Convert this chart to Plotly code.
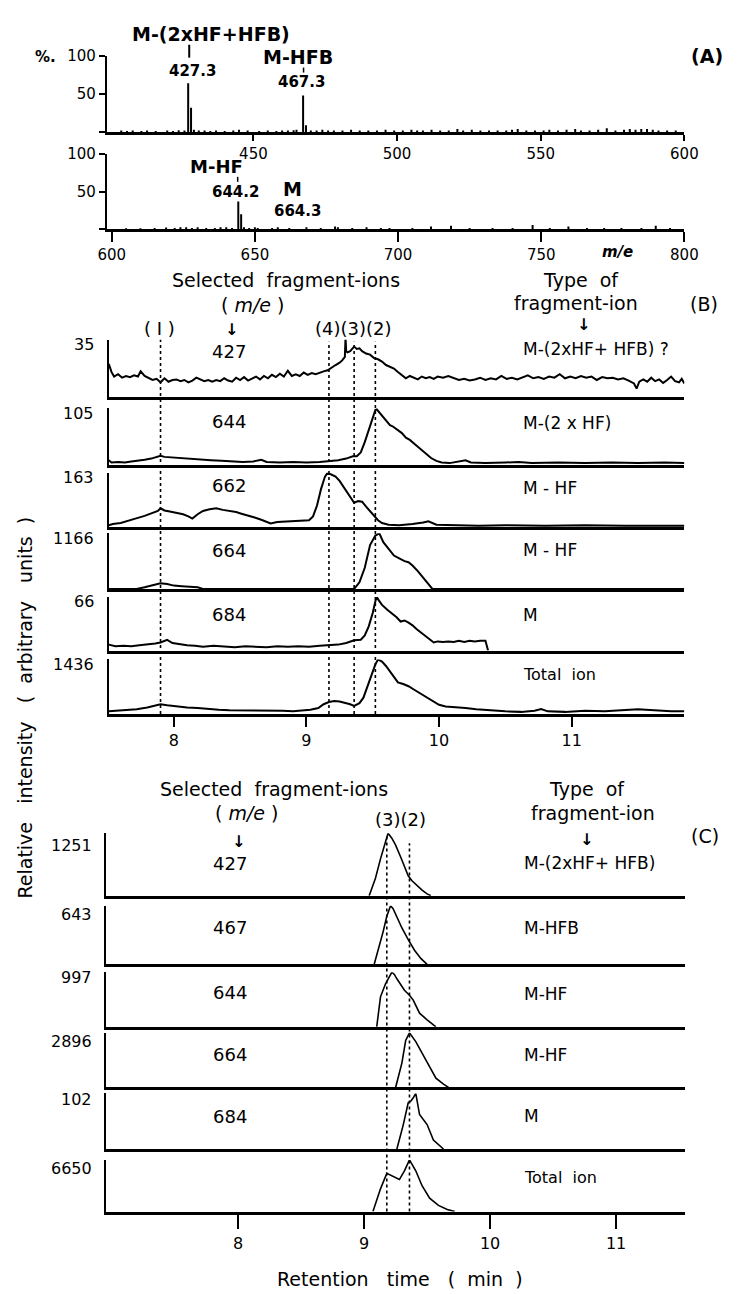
import plotly.graph_objects as go

W, H = 741, 1294
FONT = "DejaVu Sans"

# ---------------- data ----------------
# Panel A: mass spectrum (m/z, relative %)
a1_mz = [404, 406, 408, 411, 413, 416, 420, 422, 424, 426, 427.3, 428.3, 429.3, 431, 433, 435, 437, 440,
         443, 445, 448, 452, 455, 458, 460, 462, 464, 465, 467.3, 468.3, 470, 472, 474, 476, 478, 481, 484,
         487, 490, 493, 496, 499, 502, 505, 507, 509, 512, 515, 518, 521, 523, 526, 529, 532, 535, 538, 540,
         542, 545, 548, 551, 553, 556, 559, 562, 564, 567, 570, 573, 576, 579, 581, 583, 585, 587, 589, 591,
         594, 597]
a1_int = [2, 1.5, 2, 1.5, 2, 1.5, 2, 1.5, 2.5, 2, 64, 32, 3, 2, 2, 1.5, 2, 1.5,
          2, 3, 2, 1.5, 2, 1.5, 2, 2, 2.5, 3, 48, 9, 2, 2, 3, 2, 2, 2, 3,
          2, 2, 2, 3, 2, 2, 3, 2, 2, 3, 2, 2, 4, 2, 3, 2, 2, 2, 2, 3,
          4, 2, 2, 2, 3, 2, 3, 4, 2, 2, 3, 5, 2, 3, 4, 3, 4, 4, 3, 2,
          2, 2]
a2_mz = [605, 610, 615, 619, 622, 624, 626, 628, 630, 633, 636, 638, 640, 642, 644.2, 645.2, 646.2, 648,
         650, 651, 656, 658, 662, 668, 673, 678, 679, 684, 689, 694, 697, 705, 711.5, 718.5, 725, 733, 740,
         747, 753, 759.5, 766, 772, 778, 785, 790, 795]
a2_int = [1.5, 1.5, 2, 2.5, 2, 3, 3, 2, 3, 2, 2, 3, 3, 2, 37, 20, 3, 2,
          3, 2, 2, 3, 2, 3, 2, 4, 3, 2, 3, 2, 2, 2, 4, 5, 2, 2, 2,
          6, 2, 4, 2, 2, 2, 2, 5, 2]
a1_ticks = [450, 500, 550, 600]
a2_ticks = [600, 650, 700, 750, 800]

# Panel B: selected ion chromatograms (retention time min, % of full scale)
b_labels = ["35", "105", "163", "1166", "66", "1436"]
b_ions = ["427", "644", "662", "664", "684", ""]
b_types = ["M-(2xHF+ HFB) ?", "M-(2 x HF)", "M - HF", "M - HF", "M", "Total  ion"]

b427_t = [7.51, 7.53, 7.55, 7.58, 7.61, 7.64, 7.67, 7.70, 7.73, 7.75, 7.78, 7.81, 7.84, 7.87, 7.90, 7.93, 7.96,
          7.99, 8.02, 8.05, 8.08, 8.11, 8.14, 8.17, 8.20, 8.23, 8.26, 8.29, 8.32, 8.35, 8.38, 8.41, 8.44, 8.47,
          8.50, 8.53, 8.56, 8.59, 8.62, 8.65, 8.68, 8.71, 8.74, 8.77, 8.80, 8.83, 8.86, 8.89, 8.92, 8.95, 8.98,
          9.01, 9.04, 9.07, 9.10, 9.13, 9.16, 9.19, 9.22, 9.25, 9.27, 9.29, 9.295, 9.30, 9.31, 9.33, 9.36, 9.38,
          9.40, 9.42, 9.45, 9.48, 9.51, 9.54, 9.57, 9.60, 9.63, 9.66, 9.69, 9.72, 9.75, 9.78, 9.81, 9.84, 9.87,
          9.90, 9.93, 9.96, 9.99, 10.03, 10.07, 10.11, 10.15, 10.19, 10.23, 10.27, 10.31, 10.35, 10.39, 10.43,
          10.47, 10.51, 10.55, 10.59, 10.63, 10.67, 10.71, 10.75, 10.79, 10.83, 10.87, 10.91, 10.95, 10.99,
          11.03, 11.07, 11.11, 11.15, 11.19, 11.23, 11.27, 11.31, 11.35, 11.39, 11.43, 11.47, 11.49, 11.51,
          11.54, 11.57, 11.60, 11.63, 11.66, 11.69, 11.72, 11.75, 11.78, 11.81, 11.83, 11.85]
b427_v = [58, 44, 36, 40, 34, 37, 35, 38, 36, 45, 37, 34, 30, 32, 26, 33, 27,
          30, 31, 28, 30, 26, 29, 34, 31, 28, 30, 27, 30, 28, 33, 29, 27, 34,
          30, 35, 29, 32, 36, 31, 37, 33, 39, 35, 41, 36, 46, 37, 40, 37, 43,
          39, 42, 40, 43, 45, 47, 52, 56, 60, 64, 70, 104, 80, 78, 80, 88, 84,
          85, 80, 76, 74, 68, 66, 62, 56, 53, 50, 44, 38, 33, 37, 34, 31, 36,
          33, 35, 32, 36, 34, 37, 33, 30, 32, 29, 31, 34, 30, 33, 31,
          37, 32, 34, 31, 35, 38, 33, 35, 32, 36, 34, 40, 33, 36,
          33, 37, 34, 36, 30, 35, 33, 34, 31, 33, 29, 24, 15, 27,
          31, 27, 34, 28, 31, 25, 30, 36, 28, 26, 32, 24]

b644_t = [7.51, 7.53, 7.58, 7.63, 7.68, 7.73, 7.78, 7.83, 7.88, 7.90, 7.93, 7.98, 8.05, 8.12, 8.20, 8.28, 8.36,
          8.44, 8.52, 8.60, 8.66, 8.70, 8.80, 8.90, 9.00, 9.10, 9.17, 9.24, 9.30, 9.35, 9.38, 9.41, 9.44, 9.47,
          9.50, 9.52, 9.53, 9.55, 9.57, 9.59, 9.61, 9.63, 9.65, 9.68, 9.70, 9.72, 9.75, 9.78, 9.82, 9.86, 9.90,
          9.94, 9.98, 10.02, 10.08, 10.14, 10.20, 10.24, 10.35, 10.50, 10.60, 10.70, 10.90, 11.10, 11.30, 11.50,
          11.70, 11.85]
b644_v = [8, 4, 5, 4, 6, 7, 9, 11, 14, 16, 14, 13, 12, 10, 9, 8, 7,
          6, 5, 6, 9, 5, 4, 5, 4, 5, 6, 8, 11, 15, 15, 22, 40, 62,
          85, 97, 98, 92, 86, 82, 76, 70, 68, 63, 60, 56, 48, 44, 36, 28, 20,
          12, 7, 4, 3, 5, 8, 4, 3, 4, 5, 3, 4, 3, 4, 3,
          4, 3]

b662_t = [7.51, 7.54, 7.60, 7.65, 7.71, 7.78, 7.85, 7.88, 7.90, 7.93, 7.97, 8.02, 8.07, 8.11, 8.14, 8.18, 8.22,
          8.27, 8.32, 8.37, 8.42, 8.47, 8.51, 8.56, 8.61, 8.66, 8.71, 8.73, 8.78, 8.84, 8.90, 8.96, 9.02, 9.05,
          9.08, 9.11, 9.14, 9.16, 9.19, 9.22, 9.25, 9.28, 9.31, 9.34, 9.36, 9.39, 9.42, 9.45, 9.48, 9.51, 9.54,
          9.57, 9.62, 9.70, 9.80, 9.88, 9.92, 9.98, 10.10, 10.30, 10.50, 10.80, 11.10, 11.40, 11.85]
b662_v = [4, 6, 8, 11, 16, 21, 27, 30, 35, 31, 29, 27, 24, 20, 16, 24, 30,
          33, 35, 32, 30, 28, 25, 22, 18, 14, 9, 7, 10, 11, 12, 12, 13, 20,
          40, 70, 93, 100, 97, 93, 85, 74, 64, 52, 45, 48, 47, 38, 30, 21, 13,
          8, 5, 4, 6, 9, 11, 5, 4, 3, 4, 3, 4, 3, 3]

b664_t = [7.51, 7.72, 7.78, 7.84, 7.90, 7.95, 8.00, 8.06, 8.12, 8.18, 8.22, 9.36, 9.40, 9.44, 9.48, 9.52, 9.55,
          9.58, 9.62, 9.66, 9.70, 9.74, 9.77, 9.80, 9.84, 9.88, 9.92, 9.95, 11.85]
b664_v = [0, 0, 3, 6, 10, 9, 6, 5, 4, 3, 0, 0, 12, 38, 79, 96, 100,
          84, 72, 60, 55, 50, 48, 42, 32, 20, 8, 0, 0]

b684_t = [7.51, 7.56, 7.62, 7.68, 7.74, 7.80, 7.86, 7.90, 7.95, 7.99, 8.04, 8.10, 8.16, 8.22, 8.30, 8.38, 8.46,
          8.54, 8.62, 8.70, 8.78, 8.86, 8.94, 9.02, 9.10, 9.17, 9.24, 9.30, 9.36, 9.41, 9.44, 9.47, 9.50, 9.52,
          9.53, 9.55, 9.57, 9.61, 9.64, 9.68, 9.71, 9.74, 9.77, 9.80, 9.83, 9.87, 9.90, 9.93, 9.96, 9.99, 10.03,
          10.07, 10.11, 10.15, 10.19, 10.23, 10.27, 10.31, 10.35, 10.37]
b684_v = [11, 8, 9, 8, 10, 11, 13, 15, 20, 14, 12, 10, 9, 7, 9, 8, 6,
          8, 7, 6, 8, 7, 8, 7, 9, 10, 11, 14, 19, 20, 28, 45, 70, 92,
          100, 92, 85, 76, 70, 62, 54, 56, 52, 47, 40, 32, 26, 20, 15, 17, 16,
          17, 16, 18, 16, 18, 17, 18, 18, 0]

btot_t = [7.51, 7.58, 7.65, 7.72, 7.80, 7.86, 7.90, 7.95, 8.02, 8.10, 8.18, 8.26, 8.34, 8.42, 8.50, 8.58, 8.66,
          8.74, 8.82, 8.90, 8.97, 9.03, 9.09, 9.13, 9.17, 9.21, 9.25, 9.29, 9.33, 9.36, 9.40, 9.43, 9.46, 9.49,
          9.52, 9.54, 9.57, 9.60, 9.63, 9.66, 9.69, 9.73, 9.77, 9.81, 9.86, 9.90, 9.95, 10.00, 10.05, 10.12,
          10.20, 10.28, 10.38, 10.50, 10.62, 10.72, 10.77, 10.82, 10.95, 11.10, 11.25, 11.40, 11.50, 11.56,
          11.65, 11.75, 11.85]
btot_v = [5, 6, 7, 9, 12, 15, 18, 16, 14, 12, 11, 9, 8, 7, 7, 6, 6,
          7, 6, 5, 6, 8, 11, 18, 22, 24, 23, 21, 18, 15, 20, 30, 50, 72,
          91, 100, 96, 88, 78, 68, 58, 55, 51, 45, 38, 31, 24, 17, 14, 13,
          11, 9, 7, 5, 4, 6, 9, 5, 4, 6, 5, 7, 9, 8,
          6, 5, 5]

b_peaks = [(1, 7.90), (4, 9.17), (3, 9.36), (2, 9.52)]   # labelled retention times
b_ticks = [8, 9, 10, 11]

# Panel C
c_labels = ["1251", "643", "997", "2896", "102", "6650"]
c_ions = ["427", "467", "644", "664", "684", ""]
c_types = ["M-(2xHF+ HFB)", "M-HFB", "M-HF", "M-HF", "M", "Total  ion"]

c427_t = [9.04, 9.09, 9.13, 9.16, 9.18, 9.19, 9.22, 9.25, 9.29, 9.32, 9.35, 9.38, 9.42, 9.46, 9.50, 9.53]
c427_v = [0, 28, 59, 80, 95, 100, 92, 81, 62, 48, 32, 24, 16, 9, 3, 0]
c467_t = [9.08, 9.12, 9.15, 9.18, 9.21, 9.23, 9.26, 9.30, 9.35, 9.40, 9.45, 9.50]
c467_v = [0, 30, 55, 82, 100, 95, 80, 62, 42, 24, 10, 0]
c644_t = [9.10, 9.13, 9.17, 9.22, 9.24, 9.26, 9.32, 9.36, 9.39, 9.44, 9.50, 9.57]
c644_v = [0, 55, 79, 100, 96, 88, 67, 58, 49, 25, 13, 0]
c664_t = [9.25, 9.30, 9.33, 9.36, 9.41, 9.46, 9.52, 9.57, 9.63, 9.67]
c664_v = [0, 45, 86, 100, 84, 63, 40, 17, 6, 0]
c684_t = [9.26, 9.31, 9.35, 9.37, 9.39, 9.41, 9.44, 9.50, 9.55, 9.61, 9.63]
c684_v = [0, 43, 83, 86, 92, 100, 62, 44, 16, 4, 0]
ctot_t = [9.07, 9.13, 9.18, 9.23, 9.28, 9.32, 9.36, 9.41, 9.46, 9.52, 9.59, 9.66, 9.72]
ctot_v = [0, 44, 74, 68, 62, 79, 100, 79, 50, 26, 12, 4, 0]

c_peaks = [(3, 9.18), (2, 9.36)]
c_ticks = [8, 9, 10, 11]

# ---------------- layout helpers ----------------
def px(x):
    return x / W


def py(y):
    return 1 - y / H


fig = go.Figure()
layout = dict(width=W, height=H, margin=dict(l=0, r=0, t=0, b=0), paper_bgcolor="white",
              plot_bgcolor="rgba(0,0,0,0)", showlegend=False, font=dict(family=FONT, color="black"))
ann = []
shapes = []


def txt(x, y, s, size=17, xanchor="center", angle=0):
    ann.append(dict(x=px(x), y=py(y), xref="paper", yref="paper", text=s, showarrow=False,
                    font=dict(family=FONT, size=size, color="black"), xanchor=xanchor, yanchor="middle",
                    textangle=angle))


def tick_mark(x, y0, y1, w=2):
    shapes.append(dict(type="line", xref="paper", yref="paper", x0=px(x), x1=px(x), y0=py(y0), y1=py(y1),
                       line=dict(color="black", width=w)))


def axes(n, x0, x1, ytop, ybot, xr, yr, xtick=None, xticklen=8, ylinew=2.0, ytick=None, xlinew=2.5,
         tickfs=16, standoff=None):
    sx = "" if n == 1 else str(n)
    xa = dict(domain=[px(x0), px(x1)], range=xr, anchor="y" + sx, showline=True, linecolor="black",
              linewidth=xlinew, showgrid=False, zeroline=False, fixedrange=True)
    if xtick:
        xa.update(tickmode="array", tickvals=xtick, ticks="outside", ticklen=xticklen, tickwidth=2,
                  tickcolor="black", showticklabels=True, tickfont=dict(size=tickfs, family=FONT))
        if standoff is not None:
            xa["ticklabelstandoff"] = standoff
    else:
        xa.update(ticks="", showticklabels=False)
    ya = dict(domain=[py(ybot), py(ytop)], range=yr, anchor="x" + sx, showline=True, linecolor="black",
              linewidth=ylinew, showgrid=False, zeroline=False, fixedrange=True)
    if ytick:
        ya.update(tickmode="array", tickvals=ytick[0], ticktext=ytick[1], ticks="outside", ticklen=6,
                  tickwidth=2, tickcolor="black", tickfont=dict(size=15, family=FONT))
    else:
        ya.update(ticks="", showticklabels=False)
    layout["xaxis" + sx] = xa
    layout["yaxis" + sx] = ya
    return "x" + sx, "y" + sx


def sticks(mz, inten):
    xs, ys = [], []
    for m, v in zip(mz, inten):
        xs += [m, m, None]
        ys += [0, v, None]
    return xs, ys


# ---------------- Panel A ----------------
xa, ya = axes(1, 101, 697, 47, 124, [399, 600], [0, 100], xtick=a1_ticks, xticklen=6,
              ytick=([0, 50, 100], ["", "50", "100"]), tickfs=15, standoff=0)
sx, sy = sticks(a1_mz, a1_int)
fig.add_trace(go.Scatter(x=sx, y=sy, xaxis=xa, yaxis=ya, mode="lines", line=dict(color="black", width=2)))
xa, ya = axes(2, 101, 697, 146, 222, [598.3, 800], [0, 100], xtick=a2_ticks, xticklen=10,
              ytick=([0, 50, 100], ["", "50", "100"]), tickfs=15)
sx, sy = sticks(a2_mz, a2_int)
fig.add_trace(go.Scatter(x=sx, y=sy, xaxis=xa, yaxis=ya, mode="lines", line=dict(color="black", width=2)))

txt(208, 25, "<b>M-(2xHF+HFB)</b>", 19)
tick_mark(186, 36, 49)
txt(189, 62, "<b>427.3</b>", 15)
txt(298, 48, "<b>M-HFB</b>", 19)
tick_mark(304, 59, 64, 1.5)
txt(302, 74, "<b>467.3</b>", 15)
txt(38, 48, "<b>%.</b>", 15)
txt(720, 47, "<b>(A)</b>", 19)
txt(214, 159, "<b>M-HF</b>", 18)
tick_mark(236, 169, 174, 1.5)
txt(234, 184, "<b>644.2</b>", 15)
txt(293, 181, "<b>M</b>", 19)
txt(298, 203, "<b>664.3</b>", 15)
txt(628, 245, "<b><i>m/e</i></b>", 15)

# ---------------- Panel B ----------------
b_rows = [(333, 391), (402, 459), (467, 522), (528, 584), (592, 646), (655, 710)]
b_series = [(b427_t, b427_v), (b644_t, b644_v), (b662_t, b662_v), (b664_t, b664_v), (b684_t, b684_v),
            (btot_t, btot_v)]
b_type_y = [342, 417, 482, 545, 610, 670]
b_ion_y = [345, 415, 480, 545, 610, 0]
first_bx = None
for i, ((top, bot), (t, v)) in enumerate(zip(b_rows, b_series)):
    n = 3 + i
    last = i == len(b_rows) - 1
    xa, ya = axes(n, 103, 697, top, bot, [7.51, 11.85], [0, 100], xtick=b_ticks if last else None,
                  xticklen=10)
    if first_bx is None:
        first_bx = xa
    fig.add_trace(go.Scatter(x=t, y=v, xaxis=xa, yaxis=ya, mode="lines",
                             line=dict(color="black", width=2)))
    txt(90, top + 5, b_labels[i], 16, xanchor="right")
    if b_ions[i]:
        txt(227, b_ion_y[i], b_ions[i], 18)
    txt(528, b_type_y[i], b_types[i], 17 if i < 5 else 16, xanchor="left")

for lab, tt in b_peaks:
    shapes.append(dict(type="line", xref=first_bx, yref="paper", x0=tt, x1=tt, y0=py(710),
                       y1=py(333 if lab == 1 else 335), line=dict(color="black", width=1.6, dash="dot"),
                       layer="below"))
txt(286, 273, "Selected  fragment-ions", 19)
txt(252, 298, "( <i>m/e</i> )", 19)
txt(230, 323, "<b>↓</b>", 16)
txt(155, 322, "( I )", 18)
txt(356, 322, "(4)(3)(2)", 18)
txt(590, 273, "Type  of", 19)
txt(585, 296, "fragment-ion", 19)
txt(593, 318, "<b>↓</b>", 16)
txt(717, 297, "(B)", 19)

# ---------------- Panel C ----------------
c_rows = [(830, 893), (903, 962), (970, 1025), (1031, 1086), (1092, 1148), (1159, 1211)]
c_series = [(c427_t, c427_v), (c467_t, c467_v), (c644_t, c644_v), (c664_t, c664_v), (c684_t, c684_v),
            (ctot_t, ctot_v)]
c_lab_y = [842, 912, 975, 1040, 1098, 1168]
c_ion_y = [860, 925, 990, 1053, 1115, 0]
c_type_y = [860, 925, 992, 1053, 1115, 1177]
first_cx = None
for i, ((top, bot), (t, v)) in enumerate(zip(c_rows, c_series)):
    n = 9 + i
    last = i == len(c_rows) - 1
    xa, ya = axes(n, 100, 698, top, bot, [6.95, 11.55], [0, 100], xtick=c_ticks if last else None,
                  xticklen=15, ylinew=1.6)
    if first_cx is None:
        first_cx = xa
    fig.add_trace(go.Scatter(x=t, y=v, xaxis=xa, yaxis=ya, mode="lines",
                             line=dict(color="black", width=1.6)))
    txt(88, c_lab_y[i], c_labels[i], 16, xanchor="right")
    if c_ions[i]:
        txt(228, c_ion_y[i], c_ions[i], 18)
    txt(529, c_type_y[i], c_types[i], 17 if i < 5 else 16, xanchor="left")

for lab, tt in c_peaks:
    shapes.append(dict(type="line", xref=first_cx, yref="paper", x0=tt, x1=tt, y0=py(1211),
                       y1=py(833 if lab == 3 else 840), line=dict(color="black", width=1.6, dash="dot"),
                       layer="below"))
txt(273, 785, "Selected  fragment-ions", 19)
txt(246, 810, "( <i>m/e</i> )", 19)
txt(237, 838, "<b>↓</b>", 16)
txt(404, 816, "(3)(2)", 18)
txt(597, 785, "Type  of", 19)
txt(603, 810, "fragment-ion", 19)
txt(596, 836, "<b>↓</b>", 16)
txt(718, 833, "(C)", 19)

txt(404, 1279, "Retention   time   (  min  )", 19)
txt(17, 703, "Relative   intensity   (  arbitrary   units  )", 19, angle=-90)

layout["annotations"] = ann
layout["shapes"] = shapes
fig.update_layout(**layout)
fig.write_html("out.html")
